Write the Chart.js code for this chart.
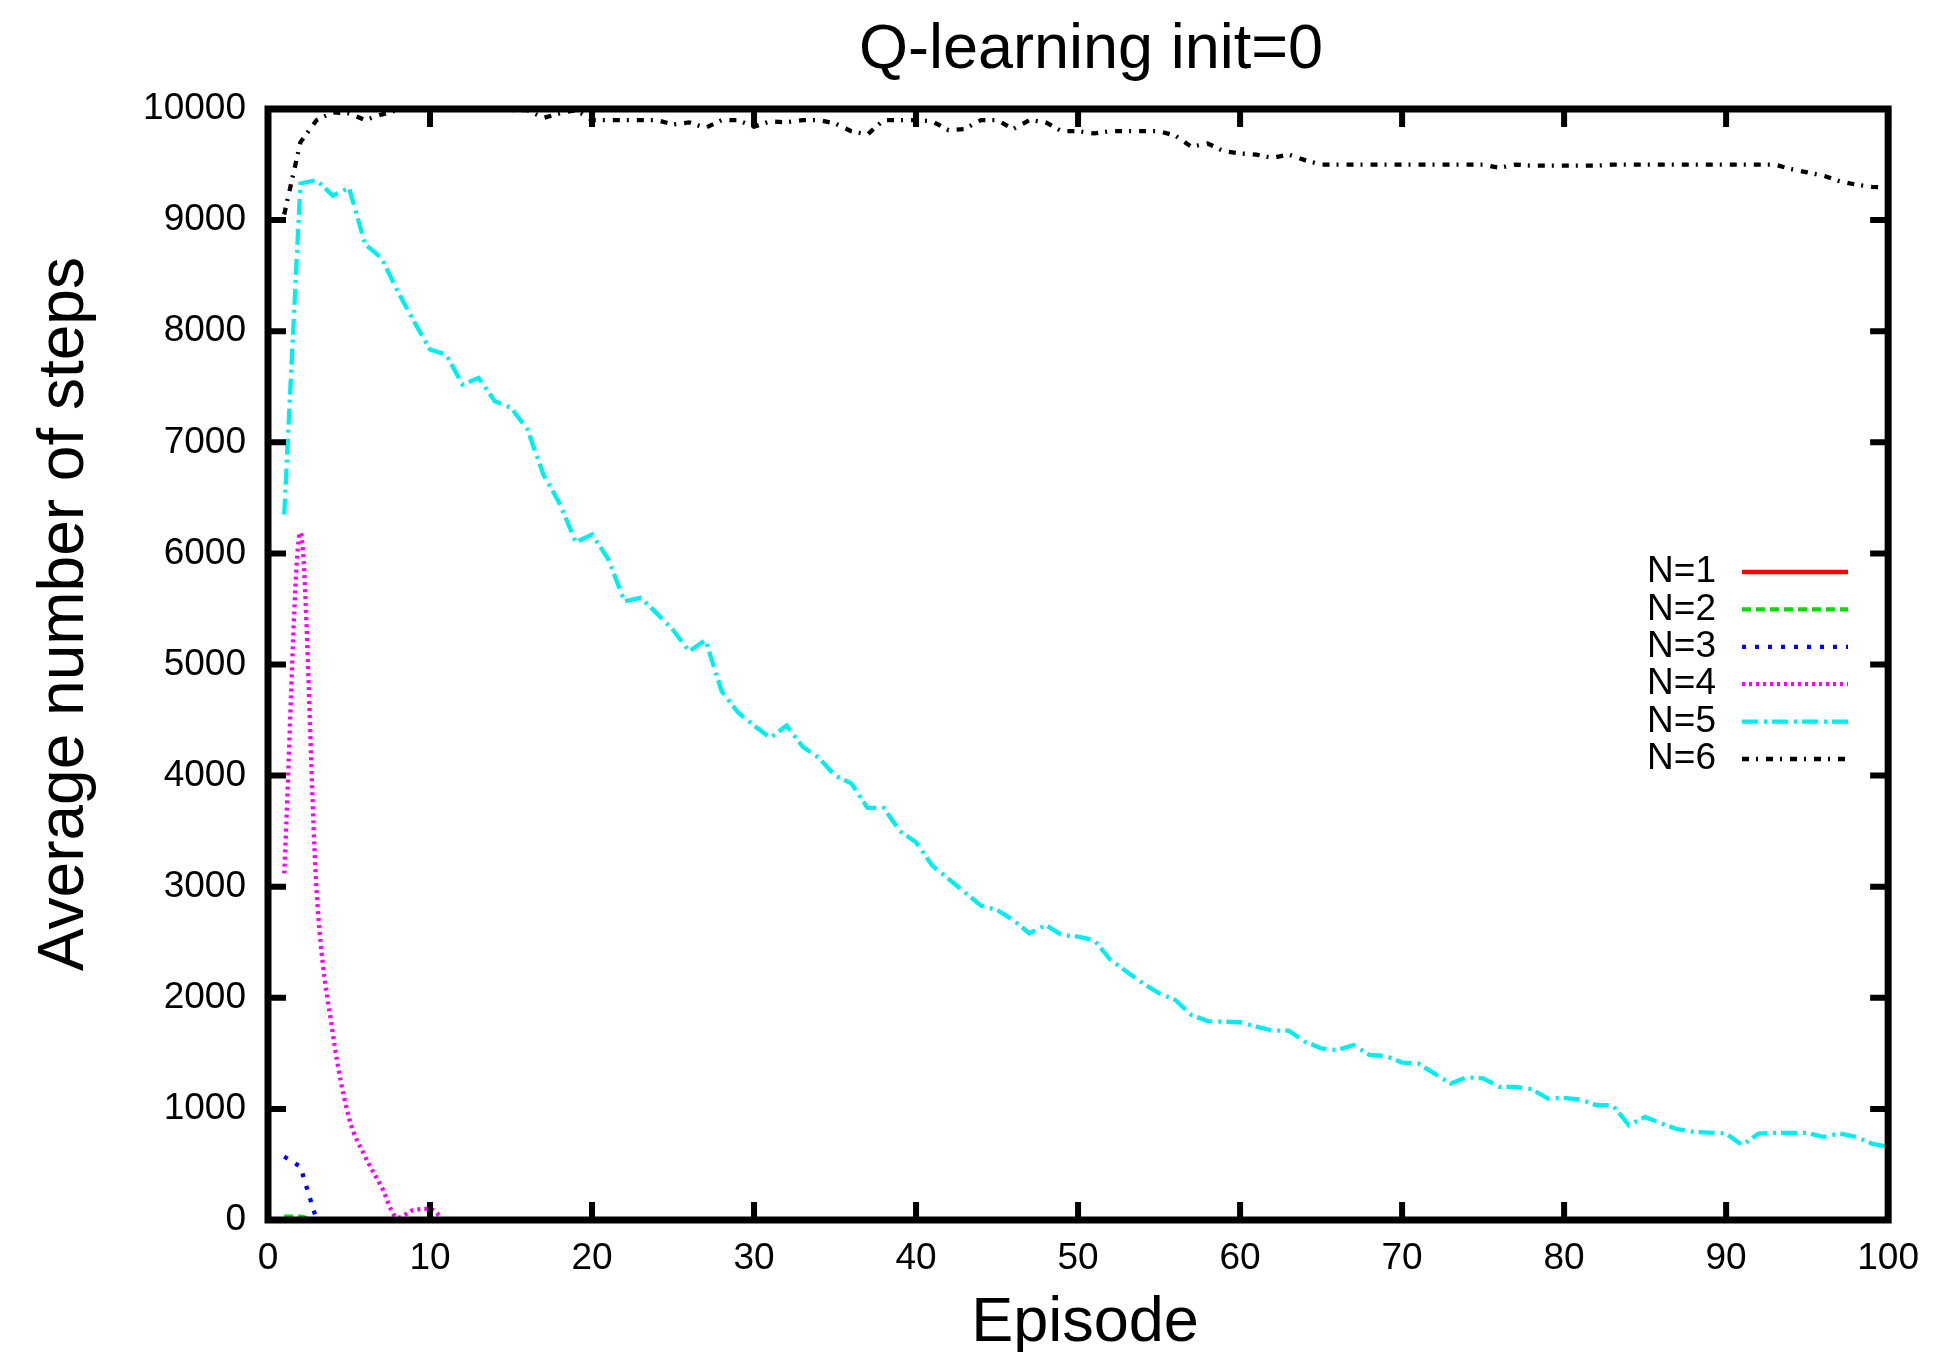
<!DOCTYPE html>
<html>
<head>
<meta charset="utf-8">
<script src="https://cdn.jsdelivr.net/npm/chart.js@4"></script>
<style>
  html, body { margin: 0; padding: 0; background: #fff; }
  #wrap { width: 1936px; height: 1352px; position: relative; }
</style>
</head>
<body>
<div id="wrap"><canvas id="chart"></canvas></div>
<script>
// Episodes 1..100
const episodes = [
  1, 2, 3, 4, 5, 6, 7, 8, 9, 10, 11, 12, 13, 14, 15, 16, 17, 18, 19, 20,
  21, 22, 23, 24, 25, 26, 27, 28, 29, 30, 31, 32, 33, 34, 35, 36, 37, 38, 39, 40,
  41, 42, 43, 44, 45, 46, 47, 48, 49, 50, 51, 52, 53, 54, 55, 56, 57, 58, 59, 60,
  61, 62, 63, 64, 65, 66, 67, 68, 69, 70, 71, 72, 73, 74, 75, 76, 77, 78, 79, 80,
  81, 82, 83, 84, 85, 86, 87, 88, 89, 90, 91, 92, 93, 94, 95, 96, 97, 98, 99, 100
];

const stepsN1 = [
  0, 0, 0, 0, 0, 0, 0, 0, 0, 0, 0, 0, 0, 0, 0, 0, 0, 0, 0, 0,
  0, 0, 0, 0, 0, 0, 0, 0, 0, 0, 0, 0, 0, 0, 0, 0, 0, 0, 0, 0,
  0, 0, 0, 0, 0, 0, 0, 0, 0, 0, 0, 0, 0, 0, 0, 0, 0, 0, 0, 0,
  0, 0, 0, 0, 0, 0, 0, 0, 0, 0, 0, 0, 0, 0, 0, 0, 0, 0, 0, 0,
  0, 0, 0, 0, 0, 0, 0, 0, 0, 0, 0, 0, 0, 0, 0, 0, 0, 0, 0, 0
];

const stepsN2 = [
  30, 30, 0, 0, 0, 0, 0, 0, 0, 0, 0, 0, 0, 0, 0, 0, 0, 0, 0, 0,
  0, 0, 0, 0, 0, 0, 0, 0, 0, 0, 0, 0, 0, 0, 0, 0, 0, 0, 0, 0,
  0, 0, 0, 0, 0, 0, 0, 0, 0, 0, 0, 0, 0, 0, 0, 0, 0, 0, 0, 0,
  0, 0, 0, 0, 0, 0, 0, 0, 0, 0, 0, 0, 0, 0, 0, 0, 0, 0, 0, 0,
  0, 0, 0, 0, 0, 0, 0, 0, 0, 0, 0, 0, 0, 0, 0, 0, 0, 0, 0, 0
];

const stepsN3 = [
  570, 480, 0, 0, 0, 0, 0, 0, 0, 0, 0, 0, 0, 0, 0, 0, 0, 0, 0, 0,
  0, 0, 0, 0, 0, 0, 0, 0, 0, 0, 0, 0, 0, 0, 0, 0, 0, 0, 0, 0,
  0, 0, 0, 0, 0, 0, 0, 0, 0, 0, 0, 0, 0, 0, 0, 0, 0, 0, 0, 0,
  0, 0, 0, 0, 0, 0, 0, 0, 0, 0, 0, 0, 0, 0, 0, 0, 0, 0, 0, 0,
  0, 0, 0, 0, 0, 0, 0, 0, 0, 0, 0, 0, 0, 0, 0, 0, 0, 0, 0, 0
];

const stepsN4 = [
  3120, 6190, 2960, 1680, 920, 570, 300, 20, 90, 100, 0, 0, 0, 0, 0, 0, 0, 0, 0, 0,
  0, 0, 0, 0, 0, 0, 0, 0, 0, 0, 0, 0, 0, 0, 0, 0, 0, 0, 0, 0,
  0, 0, 0, 0, 0, 0, 0, 0, 0, 0, 0, 0, 0, 0, 0, 0, 0, 0, 0, 0,
  0, 0, 0, 0, 0, 0, 0, 0, 0, 0, 0, 0, 0, 0, 0, 0, 0, 0, 0, 0,
  0, 0, 0, 0, 0, 0, 0, 0, 0, 0, 0, 0, 0, 0, 0, 0, 0, 0, 0, 0
];

const stepsN5 = [
  6350, 9330, 9360, 9220, 9290, 8780, 8660, 8360, 8090, 7835,
  7790, 7520, 7580, 7370, 7310, 7120, 6710, 6450, 6100, 6170,
  5950, 5570, 5600, 5460, 5310, 5120, 5220, 4760, 4570, 4450,
  4340, 4450, 4260, 4160, 4000, 3930, 3710, 3710, 3500, 3400,
  3190, 3070, 2950, 2830, 2790, 2700, 2580, 2655, 2565, 2550,
  2520, 2340, 2235, 2130, 2040, 1980, 1845, 1790, 1785, 1780,
  1740, 1705, 1705, 1605, 1545, 1530, 1575, 1485, 1477, 1417,
  1408, 1318, 1228, 1285, 1275, 1198, 1198, 1177, 1093, 1099,
  1084, 1033, 1033, 853, 928, 868, 817, 793, 787, 778,
  673, 778, 784, 784, 784, 748, 778, 748, 688, 658
];

const stepsN6 = [
  9050, 9700, 9900, 9970, 9960, 9900, 9950, 9990, 10000, 10000,
  10000, 10000, 10000, 10000, 9990, 9990, 9920, 9960, 9990, 9900,
  9900, 9900, 9900, 9900, 9860, 9880, 9830, 9900, 9900, 9840,
  9890, 9880, 9900, 9900, 9870, 9800, 9770, 9900, 9900, 9900,
  9890, 9810, 9820, 9900, 9900, 9820, 9900, 9880, 9800, 9800,
  9780, 9800, 9800, 9800, 9800, 9760, 9660, 9690, 9620, 9600,
  9590, 9560, 9590, 9540, 9500, 9500, 9500, 9500, 9500, 9500,
  9500, 9500, 9500, 9500, 9500, 9470, 9500, 9490, 9490, 9490,
  9490, 9490, 9500, 9500, 9500, 9500, 9500, 9500, 9500, 9500,
  9500, 9500, 9500, 9460, 9430, 9400, 9350, 9320, 9300, 9290
];

const seriesLabels = ['N=1', 'N=2', 'N=3', 'N=4', 'N=5', 'N=6'];
const xTicks = [0, 10, 20, 30, 40, 50, 60, 70, 80, 90, 100];
const yTicks = [0, 1000, 2000, 3000, 4000, 5000, 6000, 7000, 8000, 9000, 10000];

const FONT = '"Liberation Sans", Arial, Helvetica, sans-serif';

function points(values) {
    return episodes.map((e, i) => ({ x: e, y: values[i] }));
}

const styles = [
    { color: '#ff0000', dash: [] },
    { color: '#00dd00', dash: [9, 5] },
    { color: '#0000ff', dash: [4, 9] },
    { color: '#ff00ff', dash: [3, 4], smooth: true },
    { color: '#00eeee', dash: [16, 6, 3, 5] },
    { color: '#000000', dash: [7, 7, 2, 8] }
];

const allSteps = [stepsN1, stepsN2, stepsN3, stepsN4, stepsN5, stepsN6];
const LINE_W = 4.3;

const datasets = allSteps.map((vals, i) => ({
    label: seriesLabels[i],
    data: points(vals),
    borderColor: styles[i].color,
    borderDash: styles[i].dash,
    borderWidth: LINE_W,
    pointRadius: 0,
    fill: false,
    tension: 0,
    cubicInterpolationMode: styles[i].smooth ? 'monotone' : 'default',
    order: 6 - i
}));

// Frame, inward ticks, legend and axis titles drawn on top (gnuplot look)
const framePlugin = {
    id: 'frame',
    afterDatasetsDraw(chart) {
        const ctx = chart.ctx;
        const a = chart.chartArea;
        const xs = chart.scales.x;
        const ys = chart.scales.y;
        ctx.save();

        ctx.strokeStyle = '#000';
        ctx.lineWidth = 6;
        ctx.beginPath();
        yTicks.forEach(v => {
            const py = ys.getPixelForValue(v);
            ctx.moveTo(a.left, py); ctx.lineTo(a.left + 18, py);
            ctx.moveTo(a.right, py); ctx.lineTo(a.right - 18, py);
        });
        xTicks.forEach(v => {
            const px = xs.getPixelForValue(v);
            ctx.moveTo(px, a.bottom); ctx.lineTo(px, a.bottom - 18);
            ctx.moveTo(px, a.top); ctx.lineTo(px, a.top + 18);
        });
        ctx.stroke();

        ctx.lineWidth = 7;
        ctx.strokeRect(a.left, a.top, a.right - a.left, a.bottom - a.top);

        // legend
        ctx.font = '37px ' + FONT;
        ctx.fillStyle = '#000';
        ctx.textAlign = 'right';
        ctx.textBaseline = 'middle';
        chart.data.datasets.forEach((ds, i) => {
            const ry = 572 + i * 37.4;
            ctx.fillText(ds.label, 1716, ry);
            ctx.save();
            ctx.strokeStyle = ds.borderColor;
            ctx.lineWidth = LINE_W;
            ctx.setLineDash(ds.borderDash);
            ctx.beginPath();
            ctx.moveTo(1742, ry);
            ctx.lineTo(1848, ry);
            ctx.stroke();
            ctx.restore();
        });

        // titles
        ctx.font = '63px ' + FONT;
        ctx.textAlign = 'center';
        ctx.textBaseline = 'alphabetic';
        ctx.fillText('Q-learning init=0', 1091, 68);
        ctx.fillText('Episode', 1085, 1341);

        ctx.font = '64px ' + FONT;
        ctx.translate(83, 614);
        ctx.rotate(-Math.PI / 2);
        ctx.fillText('Average number of steps', 0, 0);

        ctx.restore();
    }
};

const ctx = document.getElementById('chart').getContext('2d');
new Chart(ctx, {
    type: 'line',
    data: { datasets: datasets },
    options: {
        responsive: true,
        maintainAspectRatio: false,
        devicePixelRatio: 1,
        animation: false,
        layout: { padding: { top: 109, right: 45, bottom: 0, left: 0 } },
        plugins: {
            legend: { display: false },
            title: { display: false },
            tooltip: { enabled: false }
        },
        scales: {
            x: {
                type: 'linear',
                min: 0,
                max: 100,
                afterFit: s => { s.height = 132; },
                afterBuildTicks: s => { s.ticks = xTicks.map(v => ({ value: v })); },
                grid: { display: false, drawTicks: false },
                border: { display: false },
                ticks: {
                    color: '#000',
                    padding: 17,
                    maxRotation: 0,
                    font: { family: FONT, size: 37 },
                    callback: v => String(v)
                }
            },
            y: {
                min: 0,
                max: 10000,
                afterFit: s => { s.width = 268; },
                afterBuildTicks: s => { s.ticks = yTicks.map(v => ({ value: v })); },
                grid: { display: false, drawTicks: false },
                border: { display: false },
                ticks: {
                    color: '#000',
                    padding: 22,
                    font: { family: FONT, size: 37 },
                    callback: v => String(v)
                }
            }
        }
    },
    plugins: [framePlugin]
});
</script>
</body>
</html>
